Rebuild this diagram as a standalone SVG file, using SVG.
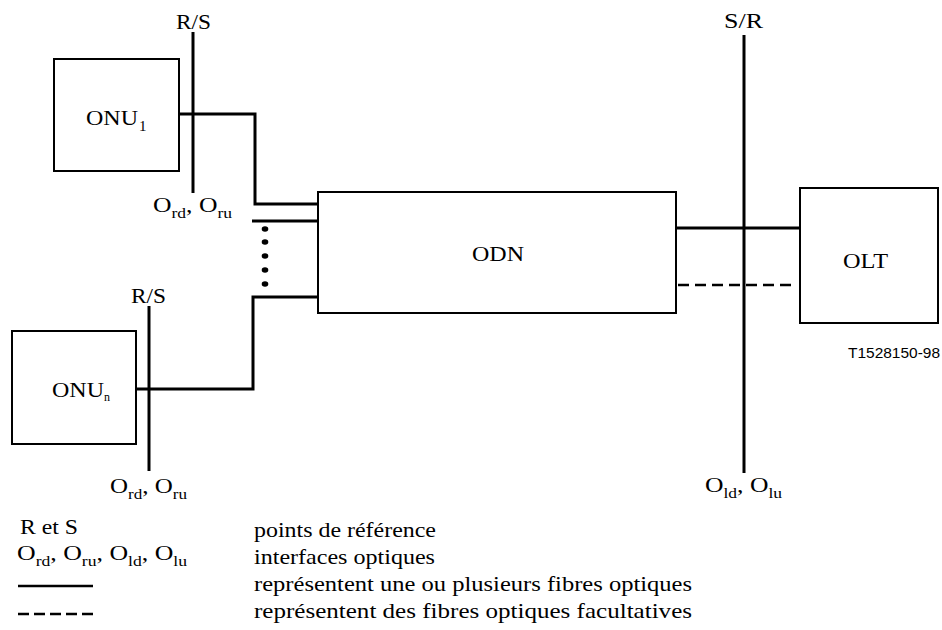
<svg xmlns="http://www.w3.org/2000/svg" width="942" height="630" viewBox="0 0 942 630">
<style>
text{font-family:'Liberation Serif','Times New Roman',Tinos,'DejaVu Serif',serif;font-size:22px;fill:#000}
.sub{font-size:15px}
.box{fill:#fff;stroke:#000;stroke-width:2}
.ln{fill:none;stroke:#000;stroke-width:3}
.dash{fill:none;stroke:#000;stroke-width:2.5;stroke-dasharray:11 6}
text.ref{font-family:'Liberation Sans',Arial,sans-serif;font-size:14px}
</style>
<rect width="942" height="630" fill="#fff"/>
<g id="connectors">
<polyline class="ln" points="179,114 255,114 255,204 318,204"/>
<line class="ln" x1="252" y1="221" x2="318" y2="221"/>
<polyline class="ln" points="318,297 253,297 253,389 136,389"/>
<line class="ln" x1="676" y1="228" x2="800" y2="228"/>
<line class="dash" x1="678" y1="285" x2="796" y2="285"/>
<g fill="#000">
<ellipse cx="265" cy="229" rx="3.3" ry="2.8"/>
<ellipse cx="265" cy="242" rx="3.3" ry="2.8"/>
<ellipse cx="265" cy="256" rx="3.3" ry="2.8"/>
<ellipse cx="265" cy="270" rx="3.3" ry="2.8"/>
<ellipse cx="265" cy="284" rx="3.3" ry="2.8"/>
</g>
</g>
<g id="onu1">
<rect class="box" x="54" y="59" width="125" height="112"/>
<text x="86" y="125" textLength="52" lengthAdjust="spacingAndGlyphs">ONU</text><text class="sub" x="139" y="131">1</text>
</g>
<g id="onun">
<rect class="box" x="12" y="331" width="124" height="113"/>
<text x="52" y="397" textLength="52" lengthAdjust="spacingAndGlyphs">ONU</text><text class="sub" x="104" y="401" style="font-size:12px">n</text>
</g>
<g id="odn">
<rect class="box" x="318" y="192" width="358" height="121"/>
<text x="472" y="261" textLength="52" lengthAdjust="spacingAndGlyphs">ODN</text>
</g>
<g id="olt">
<rect class="box" x="800" y="188" width="138" height="135"/>
<text x="843" y="268" textLength="45" lengthAdjust="spacingAndGlyphs">OLT</text>
</g>
<g id="ref-rs1">
<line class="ln" x1="193" y1="32" x2="193" y2="193"/>
<text x="176" y="29" textLength="35" lengthAdjust="spacingAndGlyphs">R/S</text>
<text x="153" y="212" textLength="79" lengthAdjust="spacingAndGlyphs">O<tspan class="sub" dy="6">rd</tspan><tspan dy="-6">, O</tspan><tspan class="sub" dy="6">ru</tspan></text>
</g>
<g id="ref-rs2">
<line class="ln" x1="149" y1="306" x2="149" y2="471"/>
<text x="131" y="303" textLength="35" lengthAdjust="spacingAndGlyphs">R/S</text>
<text x="110" y="493" textLength="77" lengthAdjust="spacingAndGlyphs">O<tspan class="sub" dy="6">rd</tspan><tspan dy="-6">, O</tspan><tspan class="sub" dy="6">ru</tspan></text>
</g>
<g id="ref-sr">
<line class="ln" x1="744" y1="35" x2="744" y2="473"/>
<text x="724" y="28" textLength="39" lengthAdjust="spacingAndGlyphs">S/R</text>
<text x="705" y="492" textLength="77" lengthAdjust="spacingAndGlyphs">O<tspan class="sub" dy="6">ld</tspan><tspan dy="-6">, O</tspan><tspan class="sub" dy="6">lu</tspan></text>
</g>
<text class="ref" x="848" y="358" textLength="92" lengthAdjust="spacingAndGlyphs">T1528150-98</text>
<g id="legend">
<text x="20" y="534" textLength="58" lengthAdjust="spacingAndGlyphs">R et S</text>
<text x="17" y="560" textLength="170" lengthAdjust="spacingAndGlyphs">O<tspan class="sub" dy="6">rd</tspan><tspan dy="-6">, O</tspan><tspan class="sub" dy="6">ru</tspan><tspan dy="-6">, O</tspan><tspan class="sub" dy="6">ld</tspan><tspan dy="-6">, O</tspan><tspan class="sub" dy="6">lu</tspan></text>
<line class="ln" x1="18" y1="586" x2="93" y2="586" style="stroke-width:2.5"/>
<line class="dash" x1="18" y1="614" x2="93" y2="614" style="stroke-dasharray:11 5"/>
<text x="254" y="537" textLength="182" lengthAdjust="spacingAndGlyphs">points de référence</text>
<text x="254" y="564" textLength="181" lengthAdjust="spacingAndGlyphs">interfaces optiques</text>
<text x="254" y="591" textLength="438" lengthAdjust="spacingAndGlyphs">représentent une ou plusieurs fibres optiques</text>
<text x="254" y="618" textLength="438" lengthAdjust="spacingAndGlyphs">représentent des fibres optiques facultatives</text>
</g>
</svg>
